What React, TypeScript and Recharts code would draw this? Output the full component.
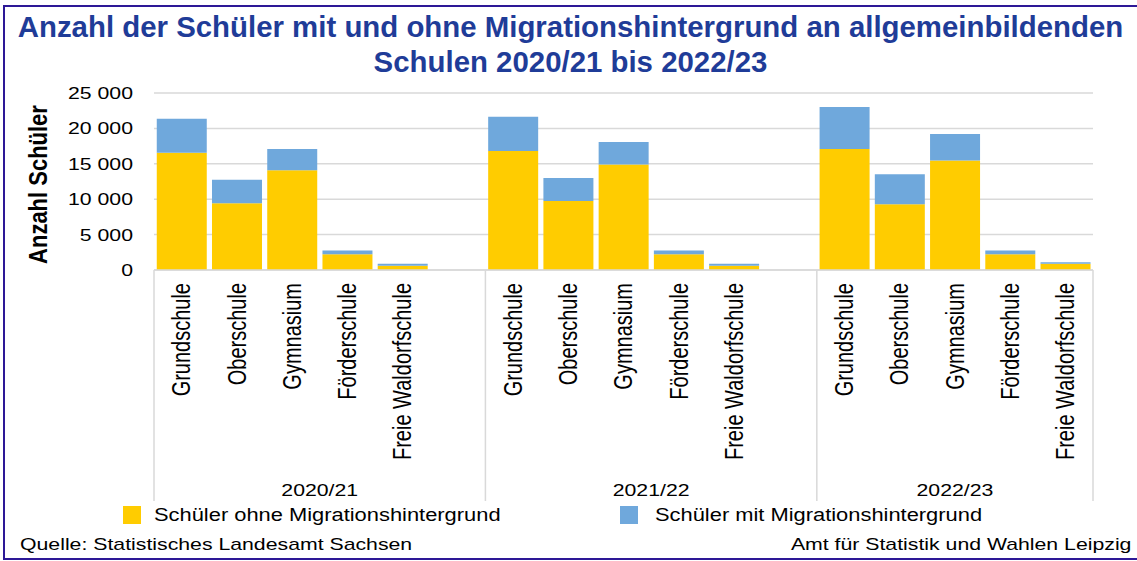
import React from "react";
import { BarChart, Bar, XAxis, YAxis, CartesianGrid } from "recharts";

// Schuljahre und Schularten
const years = ["2020/21", "2021/22", "2022/23"];
const schools = [
  "Grundschule",
  "Oberschule",
  "Gymnasium",
  "Förderschule",
  "Freie Waldorfschule",
];

// Schüler ohne Migrationshintergrund
const ohne2020 = [16560, 9420, 14100, 2240, 610];
const ohne2021 = [16800, 9750, 14910, 2240, 610];
const ohne2022 = [17090, 9280, 15480, 2240, 880];

// Schüler mit Migrationshintergrund
const mit2020 = [4790, 3310, 2990, 530, 290];
const mit2021 = [4830, 3260, 3170, 530, 290];
const mit2022 = [5920, 4260, 3740, 530, 200];

const yTicks = [0, 5000, 10000, 15000, 20000, 25000];

const series = [
  { key: "ohne", name: "Schüler ohne Migrationshintergrund", color: "#FFCC00" },
  { key: "mit", name: "Schüler mit Migrationshintergrund", color: "#6FA8DC" },
];

const ohneByYear = [ohne2020, ohne2021, ohne2022];
const mitByYear = [mit2020, mit2021, mit2022];

type Row = {
  id: string;
  year: string;
  school: string;
  pos: number;
  size: number;
  ohne: number | null;
  mit: number | null;
};

// one slot per school, plus an empty slot between the years
const rows: Row[] = years.flatMap((year, g) => {
  const size = schools.length + (g < years.length - 1 ? 1 : 0);
  const items: Row[] = schools.map((school, i) => ({
    id: `${year}-${school}`,
    year,
    school,
    pos: i,
    size,
    ohne: ohneByYear[g][i],
    mit: mitByYear[g][i],
  }));
  if (g < years.length - 1) {
    items.push({ id: `${year}-gap`, year, school: "", pos: schools.length, size, ohne: null, mit: null });
  }
  return items;
});

const FONT = '"Liberation Sans", Arial, sans-serif';
const STRETCH = 1.25;
const GRID = "#D9D9D9";

const fmt = (v: number) => String(v).replace(/\B(?=(\d{3})+(?!\d))/g, " ");

const YTick = (props: any) => {
  const { x, y, payload } = props;
  return (
    <text
      transform={`translate(${x},${y}) scale(${STRETCH},1)`}
      textAnchor="end"
      dy="0.35em"
      fontSize={17}
      fontFamily={FONT}
      fill="#000"
    >
      {fmt(payload.value)}
    </text>
  );
};

const CategoryTick = (props: any) => {
  const { x, y, payload, index, width, visibleTicksCount } = props;
  const row = rows[index];
  if (!row) return null;
  const half =
    payload && typeof payload.offset === "number" && payload.offset > 0
      ? payload.offset
      : width / visibleTicksCount / 2;
  const start = x - half;
  return (
    <g>
      {row.school && (
        <text
          transform={`translate(${x},${y + 13}) scale(${STRETCH},1) rotate(-90)`}
          textAnchor="end"
          dy="0.35em"
          fontSize={20}
          fontFamily={FONT}
          fill="#000"
        >
          {row.school}
        </text>
      )}
      {row.pos === 0 && (
        <>
          <line x1={start} x2={start} y1={y} y2={y + 231} stroke={GRID} strokeWidth={1.5} />
          <text
            transform={`translate(${start + row.size * half},${y + 220}) scale(${STRETCH},1)`}
            textAnchor="middle"
            dy="0.35em"
            fontSize={17}
            fontFamily={FONT}
            fill="#000"
          >
            {row.year}
          </text>
        </>
      )}
      {index === rows.length - 1 && (
        <line x1={x + half} x2={x + half} y1={y} y2={y + 231} stroke={GRID} strokeWidth={1.5} />
      )}
    </g>
  );
};

const YLabel = (props: any) => {
  const { viewBox } = props;
  const cy = viewBox.y + viewBox.height / 2 + 3;
  return (
    <text
      transform={`translate(${viewBox.x + 38},${cy}) scale(1.15,1) rotate(-90)`}
      textAnchor="middle"
      dy="0.35em"
      fontSize={22}
      fontWeight="bold"
      fontFamily={FONT}
      fill="#000"
    >
      Anzahl Schüler
    </text>
  );
};

const stretched = (origin: string): React.CSSProperties => ({
  display: "inline-block",
  transform: `scaleX(${STRETCH})`,
  transformOrigin: origin,
  whiteSpace: "nowrap",
});

export default function App() {
  return (
    <div
      style={{
        position: "absolute",
        left: 0,
        top: 0,
        width: 1137,
        height: 561,
        overflow: "hidden",
        background: "#fff",
        fontFamily: FONT,
      }}
    >
      {/* frame, right side runs off the picture */}
      <div
        style={{
          position: "absolute",
          left: 3,
          top: 5,
          width: 1150,
          height: 555,
          border: "2px solid #2D1896",
          boxSizing: "border-box",
        }}
      />

      <div style={{ position: "absolute", left: 0, top: 0 }}>
        <BarChart
          width={1137}
          height={505}
          data={rows}
          margin={{ top: 93, right: 44, bottom: 3, left: 0 }}
          barCategoryGap="5%"
        >
          <CartesianGrid vertical={false} stroke={GRID} strokeWidth={1.5} />
          <XAxis
            dataKey="id"
            interval={0}
            height={232}
            tickSize={0}
            tickMargin={0}
            tickLine={false}
            axisLine={{ stroke: GRID, strokeWidth: 1.5 }}
            tick={<CategoryTick />}
          />
          <YAxis
            width={154}
            domain={[0, 25000]}
            ticks={yTicks}
            interval={0}
            axisLine={false}
            tickLine={false}
            tickSize={0}
            tickMargin={21}
            tick={<YTick />}
            label={<YLabel />}
          />
          {series.map((s) => (
            <Bar
              key={s.key}
              dataKey={s.key}
              name={s.name}
              stackId="a"
              fill={s.color}
              isAnimationActive={false}
            />
          ))}
        </BarChart>
      </div>

      <div
        style={{
          position: "absolute",
          left: 2,
          top: 9,
          width: 1137,
          textAlign: "center",
          color: "#1F3C98",
          fontWeight: "bold",
          fontSize: 29.4,
          lineHeight: "35px",
          whiteSpace: "nowrap",
        }}
      >
        Anzahl der Schüler mit und ohne Migrationshintergrund an allgemeinbildenden
        <br />
        Schulen 2020/21 bis 2022/23
      </div>

      {/* legend */}
      {series.map((s, i) => (
        <div
          key={s.key}
          style={{ position: "absolute", left: 123 + i * 497, top: 504, height: 22, display: "flex", alignItems: "center" }}
        >
          <div style={{ width: 18, height: 18, background: s.color, marginRight: i === 0 ? 13 : 17 }} />
          <span style={{ ...stretched("left center"), fontSize: 17.5, color: "#000", lineHeight: "22px" }}>
            {s.name}
          </span>
        </div>
      ))}

      {/* footer */}
      <div style={{ position: "absolute", left: 20, top: 535, fontSize: 17, lineHeight: "20px", color: "#000" }}>
        <span style={stretched("left center")}>Quelle: Statistisches Landesamt Sachsen</span>
      </div>
      <div
        style={{
          position: "absolute",
          right: 6,
          top: 535,
          fontSize: 17,
          lineHeight: "20px",
          color: "#000",
          textAlign: "right",
        }}
      >
        <span style={stretched("right center")}>Amt für Statistik und Wahlen Leipzig</span>
      </div>
    </div>
  );
}
